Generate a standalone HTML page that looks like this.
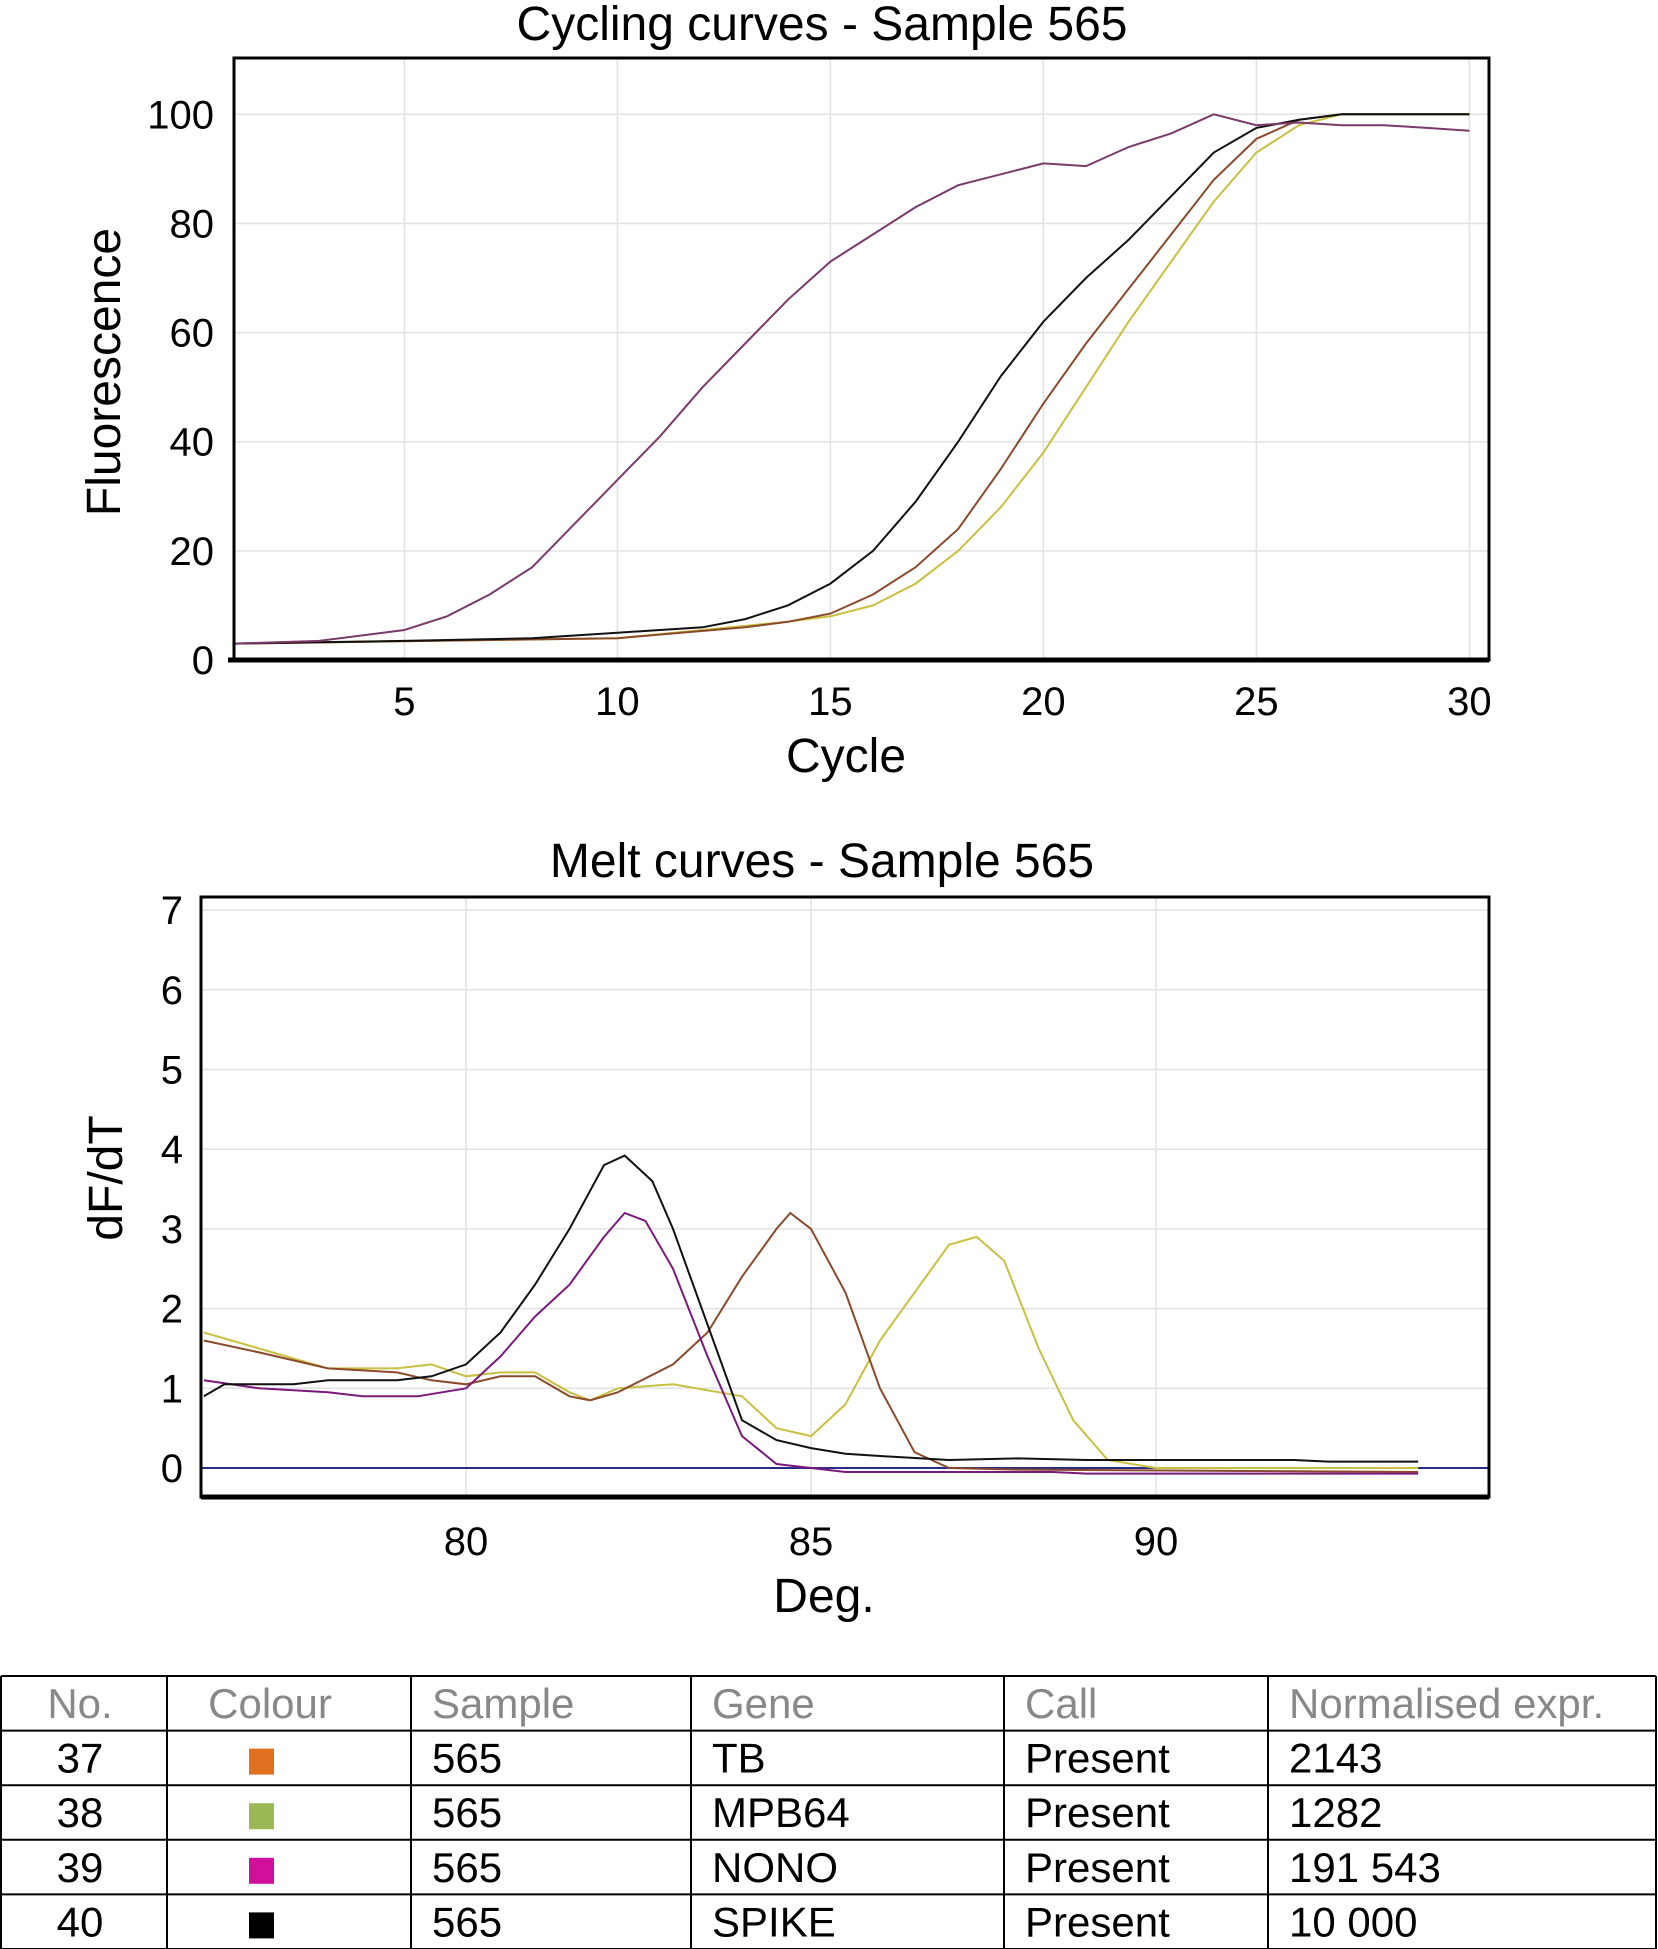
<!DOCTYPE html>
<html><head><meta charset="utf-8"><style>
body{margin:0;background:#fff;width:1658px;height:1949px;overflow:hidden;font-family:"Liberation Sans",sans-serif}
svg{position:absolute;left:0;top:0}
</style></head><body>
<svg id="s" width="1658" height="1949" xmlns="http://www.w3.org/2000/svg"></svg>
<script>
const cycTicksX=[5,10,15,20,25,30];
const cycTicksY=[0,20,40,60,80,100];
const nonoCyc=[[1,3],[3,3.5],[5,5.5],[6,8],[7,12],[8,17],[9,25],[10,33],[11,41],[12,50],[13,58],[14,66],[15,73],[16,78],[17,83],[18,87],[19,89],[20,91],[21,90.5],[22,94],[23,96.5],[24,100],[25,98],[26,98.5],[27,98],[28,98],[29,97.5],[30,97]];
const spikeCyc=[[1,3],[5,3.5],[8,4],[10,5],[12,6],[13,7.5],[14,10],[15,14],[16,20],[17,29],[18,40],[19,52],[20,62],[21,70],[22,77],[23,85],[24,93],[25,97.5],[26,99],[27,100],[30,100]];
const tbCyc=[[1,3],[10,4],[13,6],[14,7],[15,8.5],[16,12],[17,17],[18,24],[19,35],[20,47],[21,58],[22,68],[23,78],[24,88],[25,95.5],[26,99],[27,100],[30,100]];
const mpbCyc=[[1,3],[10,4],[14,7],[15,8],[16,10],[17,14],[18,20],[19,28],[20,38],[21,50],[22,62],[23,73],[24,84],[25,93],[26,98],[27,100],[30,100]];
const meltTicksX=[80,85,90];
const meltTicksY=[0,1,2,3,4,5,6,7];
const spikeMelt=[[76.2,0.9],[76.5,1.05],[77.5,1.05],[78,1.1],[79,1.1],[79.5,1.15],[80,1.3],[80.5,1.7],[81,2.3],[81.5,3.0],[82,3.8],[82.3,3.92],[82.7,3.6],[83,3.0],[83.5,1.8],[84,0.6],[84.5,0.35],[85,0.25],[85.5,0.18],[86,0.15],[87,0.1],[88,0.12],[89,0.1],[92,0.1],[92.5,0.08],[93.8,0.08]];
const nonoMelt=[[76.2,1.1],[77,1.0],[78,0.95],[78.5,0.9],[79.3,0.9],[80,1.0],[80.5,1.4],[81,1.9],[81.5,2.3],[82,2.9],[82.3,3.2],[82.6,3.1],[83,2.5],[83.5,1.4],[84,0.4],[84.5,0.05],[85,0],[85.5,-0.05],[88.5,-0.05],[89,-0.07],[93.8,-0.07]];
const tbMelt=[[76.2,1.6],[77,1.45],[78,1.25],[79,1.2],[79.5,1.1],[80,1.05],[80.5,1.15],[81,1.15],[81.5,0.9],[81.8,0.85],[82.2,0.95],[83,1.3],[83.5,1.7],[84,2.4],[84.5,3.0],[84.7,3.2],[85,3.0],[85.5,2.2],[86,1.0],[86.5,0.2],[87,0.0],[88,-0.02],[93.8,-0.05]];
const mpbMelt=[[76.2,1.7],[77,1.5],[78,1.25],[79,1.25],[79.5,1.3],[80,1.15],[80.5,1.2],[81,1.2],[81.5,0.95],[81.8,0.85],[82.2,1.0],[83,1.05],[84,0.9],[84.5,0.5],[85,0.4],[85.5,0.8],[86,1.6],[86.5,2.2],[87,2.8],[87.4,2.9],[87.8,2.6],[88.3,1.5],[88.8,0.6],[89.3,0.1],[90,0.0],[93.8,0.0]];
const tableHead=["No.","Colour","Sample","Gene","Call","Normalised expr."];
const tableRows=[["37","#e07020","565","TB","Present","2143"],["38","#9ab855","565","MPB64","Present","1282"],["39","#d0109a","565","NONO","Present","191 543"],["40","#000000","565","SPIKE","Present","10 000"]];

const S=document.getElementById('s');const NS="http://www.w3.org/2000/svg";
function mk(t,a,txt){const e=document.createElementNS(NS,t);for(const k in a)e.setAttribute(k,a[k]);if(txt!==undefined)e.textContent=txt;S.appendChild(e);return e;}
const cx=c=>234+(c-1)*42.6, cy=v=>660-v*5.457;
const mx=d=>466+(d-80)*69, my=v=>1468-v*79.7;
function line(d,fx,fy,col,name){const e=mk('polyline',{points:d.map(p=>fx(p[0]).toFixed(1)+','+fy(p[1]).toFixed(1)).join(' '),fill:'none',stroke:col,'stroke-width':2});

}
// Chart 1
let t=mk('text',{x:822,y:40,'text-anchor':'middle','font-size':48},'Cycling curves - Sample 565');
cycTicksX.forEach(v=>{mk('line',{x1:cx(v),x2:cx(v),y1:58,y2:660,stroke:'#e2e2e2','stroke-width':1.5});let l=mk('text',{x:cx(v),y:715,'text-anchor':'middle','font-size':40},v);});
cycTicksY.forEach(v=>{mk('line',{x1:234,x2:1489,y1:cy(v),y2:cy(v),stroke:'#e2e2e2','stroke-width':1.5});let l=mk('text',{x:214,y:cy(v)+14,'text-anchor':'end','font-size':40},v);});
line(mpbCyc,cx,cy,'#c8c040','mpb64-cycle-line');line(tbCyc,cx,cy,'#8b4a2b','tb-cycle-line');line(spikeCyc,cx,cy,'#111','spike-cycle-line');line(nonoCyc,cx,cy,'#7a3a6a','nono-cycle-line');
mk('rect',{x:234,y:58,width:1255,height:602,fill:'none',stroke:'#000','stroke-width':3});
mk('line',{x1:228,x2:1489,y1:660,y2:660,stroke:'#000','stroke-width':5});
t=mk('text',{x:846,y:772,'text-anchor':'middle','font-size':48},'Cycle');
t=mk('text',{x:0,y:0,'text-anchor':'middle','font-size':48,transform:'translate(120,372) rotate(-90)'},'Fluorescence');
// Chart 2
t=mk('text',{x:822,y:877,'text-anchor':'middle','font-size':48},'Melt curves - Sample 565');
meltTicksX.forEach(v=>{mk('line',{x1:mx(v),x2:mx(v),y1:897,y2:1497,stroke:'#e2e2e2','stroke-width':1.5});let l=mk('text',{x:mx(v),y:1555,'text-anchor':'middle','font-size':40},v);});
meltTicksY.forEach(v=>{mk('line',{x1:201,x2:1489,y1:my(v),y2:my(v),stroke:'#e2e2e2','stroke-width':1.5});let l=mk('text',{x:183,y:my(v)+14,'text-anchor':'end','font-size':40},v);});
mk('line',{x1:201,x2:1489,y1:my(0),y2:my(0),stroke:'#2a2a8a','stroke-width':2});
line(mpbMelt,mx,my,'#c8c040','mpb64-melt-line');line(tbMelt,mx,my,'#8b4a2b','tb-melt-line');line(nonoMelt,mx,my,'#7a1a7a','nono-melt-line');line(spikeMelt,mx,my,'#111','spike-melt-line');
mk('rect',{x:201,y:897,width:1288,height:600,fill:'none',stroke:'#000','stroke-width':3});
mk('line',{x1:201,x2:1489,y1:1497,y2:1497,stroke:'#000','stroke-width':5});
t=mk('text',{x:824,y:1612,'text-anchor':'middle','font-size':48},'Deg.');
t=mk('text',{x:0,y:0,'text-anchor':'middle','font-size':48,transform:'translate(122,1178) rotate(-90)'},'dF/dT');
// Table
const cols=[1,167,411,691,1004,1268,1656];const tblTop=1676,rh=54.6;
for(let i=0;i<=5;i++){mk('line',{x1:1,x2:1656,y1:tblTop+i*rh,y2:tblTop+i*rh,stroke:'#000','stroke-width':2});}
cols.forEach(c=>mk('line',{x1:c,x2:c,y1:tblTop,y2:tblTop+5*rh,stroke:'#000','stroke-width':2}));
tableHead.forEach((h,i)=>{const x=i==0?80:i==1?270:cols[i]+21;let e=mk('text',{x:x,y:tblTop+42,'text-anchor':i<2?'middle':'start','font-size':42,fill:'#888'},h);});
tableRows.forEach((r,j)=>{const y=tblTop+(j+1)*rh+42;
let e=mk('text',{x:80,y:y,'text-anchor':'middle','font-size':42},r[0]);
let sw=mk('rect',{x:249,y:tblTop+(j+1)*rh+18,width:25,height:26,fill:r[1]});
[2,3,4,5].forEach(k=>{let c=mk('text',{x:cols[k]+21,y:y,'font-size':42},r[k]);});});
</script>
</body></html>
